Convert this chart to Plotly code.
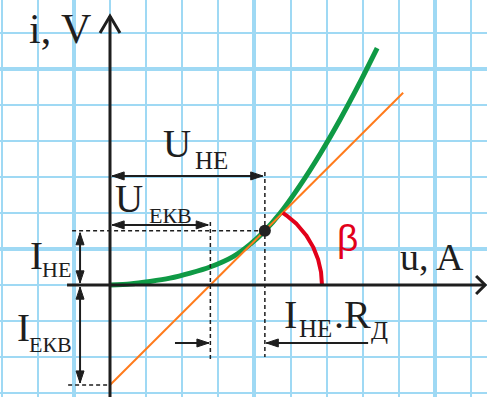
import numpy as np
import plotly.graph_objects as go

W, H = 487, 397
U_RANGE = [-3.047, 10.443]
I_RANGE = [-3.111, 7.917]
SX = W / (U_RANGE[1] - U_RANGE[0])   # px per grid unit, horizontal
SY = H / (I_RANGE[1] - I_RANGE[0])   # px per grid unit, vertical

# characteristic of the nonlinear element (grid units)
curve_u = [0.0, 0.55, 1.11, 1.66, 2.22, 2.77, 3.41, 3.88, 4.29, 4.71, 5.26, 5.82, 6.37, 6.93, 7.40]
curve_i = [0.0, 0.03, 0.10, 0.19, 0.33, 0.50, 0.79, 1.13, 1.51, 1.99, 2.76, 3.64, 4.59, 5.64, 6.58]

# operating point and the equivalent (tangent) line
U_HE = 4.29
I_HE = 1.51
I_EKB = 2.78
SLOPE = (I_HE + I_EKB) / U_HE
U_EKB = I_EKB / SLOPE
LINE_U_END = 8.12

# axis extents
U_AXIS = [-1.19, 10.39]
I_AXIS_TOP = 7.47

INK = "#1e1e1e"
GRID = "#9fd9f4"
GREEN = "#0f9a45"
ORANGE = "#ff7b1c"
RED = "#e2001a"
SERIF = "Liberation Serif"

fig = go.Figure()

# characteristic curve
fig.add_trace(go.Scatter(x=curve_u, y=curve_i, mode="lines",
                         line=dict(color=GREEN, width=5, shape="spline", smoothing=0.6),
                         hoverinfo="skip"))

# tangent line through the operating point
line_u = np.array([0.0, LINE_U_END])
fig.add_trace(go.Scatter(x=line_u, y=SLOPE * line_u - I_EKB, mode="lines",
                         line=dict(color=ORANGE, width=2), hoverinfo="skip"))

# angle arc beta
arc_cu, arc_r = 3.49, 86.0
t = np.linspace(0, np.pi / 2, 400)
au = arc_cu + arc_r * np.cos(t) / SX
ai = arc_r * np.sin(t) / SY
keep = ai <= SLOPE * au - I_EKB + 1e-9
fig.add_trace(go.Scatter(x=au[keep], y=ai[keep], mode="lines",
                         line=dict(color=RED, width=4), hoverinfo="skip"))

shapes = []


def seg(x0, y0, x1, y1, width=2, dash=None, color=INK):
    shapes.append(dict(type="line", xref="x", yref="y", x0=x0, y0=y0, x1=x1, y1=y1,
                       layer="above",
                       line=dict(color=color, width=width, dash=dash or "solid")))


def head(u, i, direction, length=12, half=4):
    # filled triangular arrowhead with its tip at (u, i), sized in pixels
    pts = {"up": [(-half, -length), (half, -length)],
           "down": [(-half, length), (half, length)],
           "left": [(length, -half), (length, half)],
           "right": [(-length, -half), (-length, half)]}[direction]
    path = "M0,0 L{},{} L{},{} Z".format(pts[0][0], pts[0][1], pts[1][0], pts[1][1])
    shapes.append(dict(type="path", xref="x", yref="y", xsizemode="pixel", ysizemode="pixel",
                       xanchor=u, yanchor=i, path=path, fillcolor=INK,
                       line=dict(color=INK, width=1), layer="above"))


def chevron(u, i, path):
    shapes.append(dict(type="path", xref="x", yref="y", xsizemode="pixel", ysizemode="pixel",
                       xanchor=u, yanchor=i, path=path,
                       line=dict(color=INK, width=3), layer="above"))


# axes
seg(U_AXIS[0], 0, U_AXIS[1], 0, width=3)
seg(0, I_RANGE[0], 0, I_AXIS_TOP, width=3)
chevron(0, I_AXIS_TOP, "M-10,-17 L0,0 L10,-17")
chevron(U_AXIS[1], 0, "M-9,9 L0,0 L-9,-9")

# dashed projections
DASH = "4px,3px"
seg(U_HE, 3.14, U_HE, -2.0, width=1.5, dash=DASH)
seg(U_EKB, 1.75, U_EKB, -2.14, width=1.5, dash=DASH)
seg(-1.05, I_HE, U_HE, I_HE, width=1.5, dash=DASH)
seg(-1.16, -I_EKB, 0, -I_EKB, width=1.5, dash=DASH)

# dimension arrows
gap = 0.06
y_uhe, y_uekb, u_i, y_ir = 3.03, 1.67, -0.83, -1.61
seg(gap, y_uhe, U_HE - gap, y_uhe)
head(gap, y_uhe, "left")
head(U_HE - gap, y_uhe, "right")

seg(gap, y_uekb, U_EKB - gap, y_uekb)
head(gap, y_uekb, "left")
head(U_EKB - gap, y_uekb, "right")

seg(u_i, I_HE - gap, u_i, gap)
head(u_i, I_HE - gap, "up")
head(u_i, gap, "down")

seg(u_i, -gap, u_i, -I_EKB + gap)
head(u_i, -gap, "up")
head(u_i, -I_EKB + gap, "down")

seg(1.80, y_ir, U_EKB - 0.04, y_ir)
head(U_EKB - 0.04, y_ir, "right")
seg(7.15, y_ir, U_HE + 0.04, y_ir)
head(U_HE + 0.04, y_ir, "left")

# operating point
shapes.append(dict(type="circle", xref="x", yref="y", xsizemode="pixel", ysizemode="pixel",
                   xanchor=U_HE, yanchor=I_HE, x0=-6, x1=6, y0=-6, y1=6,
                   fillcolor="#222222", line=dict(color="#222222", width=0), layer="above"))

annotations = []


def label(u, i, text, size, color=INK, family=SERIF):
    annotations.append(dict(x=u, y=i, xref="x", yref="y", text=text, showarrow=False,
                            xanchor="left", yanchor="middle",
                            font=dict(family=family, size=size, color=color)))


BIG, SUB = 39, 22
label(-2.30, 7.11, "i, V", 42)
label(7.98, 0.78, "u, A", 38)
label(1.41, 3.94, "U", BIG)
label(2.30, 3.47, "НЕ", 25)
label(0.08, 2.39, "U", BIG)
label(1.02, 1.94, "ЕКВ", SUB)
label(-2.27, 0.83, "I", BIG)
label(-1.94, 0.42, "НЕ", SUB)
label(-2.63, -1.19, "I", BIG)
label(-2.30, -1.64, "ЕКВ", SUB)
label(4.76, -0.81, "I", 40)
label(5.19, -1.21, "НЕ", 25)
label(6.16, -0.81, ".R", 40)
label(7.18, -1.27, "Д", 25)
label(6.24, 1.30, "β", 37, color=RED, family="Liberation Sans")

axis_common = dict(showticklabels=False, ticks="", zeroline=False, showline=False,
                   showgrid=True, gridcolor=GRID, gridwidth=4, dtick=5, fixedrange=True)

fig.update_layout(
    width=W, height=H, margin=dict(l=0, r=0, t=0, b=0),
    paper_bgcolor="white", plot_bgcolor="white", showlegend=False,
    xaxis=dict(range=U_RANGE, tick0=-1,
               minor=dict(tick0=-1, dtick=1, showgrid=True, gridcolor=GRID, gridwidth=2),
               **axis_common),
    yaxis=dict(range=I_RANGE, tick0=1,
               minor=dict(tick0=1, dtick=1, showgrid=True, gridcolor=GRID, gridwidth=2),
               **axis_common),
    shapes=shapes, annotations=annotations,
)

fig.write_html("out.html")
